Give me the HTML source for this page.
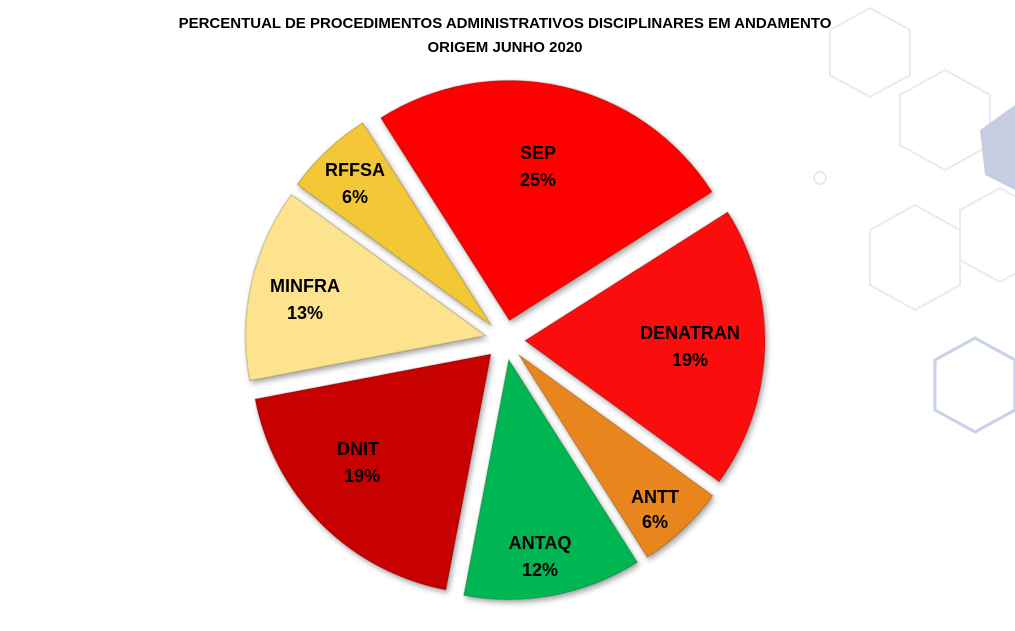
<!DOCTYPE html>
<html><head><meta charset="utf-8"><style>
html,body{margin:0;padding:0;background:#fff;}
body{width:1015px;height:631px;overflow:hidden;position:relative;font-family:"Liberation Sans",Arial,sans-serif;}
svg{position:absolute;left:0;top:0;}
</style></head><body>
<svg width="1015" height="631" viewBox="0 0 1015 631" id="s">
<defs>
<filter id="sh" x="-20%" y="-20%" width="140%" height="140%"><feDropShadow dx="2" dy="3" stdDeviation="3" flood-color="#000" flood-opacity="0.35"/></filter>
</defs>
<g fill="none" stroke="#e6ebf2" stroke-width="2">
<polygon points="900,95 945,70 990,95 990,145 945,170 900,145"/>
<polygon points="870,230 915,205 960,230 960,285 915,310 870,285"/>
<polygon points="935,360 975,338 1015,360 1015,410 975,432 935,410" stroke="#c9d2e6" stroke-width="3"/>
<polygon points="830,30 870,8 910,30 910,75 870,97 830,75"/>
<polygon points="960,210 1000,188 1040,210 1040,260 1000,282 960,260"/>
<circle cx="820" cy="178" r="6"/>
</g>
<polygon points="980,130 1015,105 1015,190 985,175" fill="#c7cde0"/>
<g id="pie" filter="url(#sh)"></g>
<g font-weight="bold" font-size="18" text-anchor="middle" fill="#000">
<text x="538" y="159">SEP</text><text x="538" y="186">25%</text>
<text x="690" y="339">DENATRAN</text><text x="690" y="366">19%</text>
<text x="655" y="503">ANTT</text><text x="655" y="528">6%</text>
<text x="540" y="549">ANTAQ</text><text x="540" y="576">12%</text>
<text x="358" y="455">DNIT</text><text x="362" y="482">19%</text>
<text x="305" y="292">MINFRA</text><text x="305" y="319">13%</text>
<text x="355" y="176">RFFSA</text><text x="355" y="203">6%</text>
</g>
<g font-weight="bold" font-size="15" text-anchor="middle" fill="#000">
<text x="505" y="28">PERCENTUAL DE PROCEDIMENTOS  ADMINISTRATIVOS DISCIPLINARES EM ANDAMENTO</text>
<text x="505" y="52">ORIGEM JUNHO 2020</text>
</g>
</svg>
<script>
var data=[[25,"#ff0000"],[19,"#fb0a0a"],[6,"#e8851c"],[12,"#00b652"],[19,"#c70202"],[13,"#fde38e"],[6,"#f3c734"]];
var cx=505,cy=340,r=240,off=20,a=-32.4,g=document.getElementById("pie"),ns="http://www.w3.org/2000/svg";
data.forEach(function(d){
 var span=d[0]*3.6,m=(a+span/2)*Math.PI/180;
 var ox=cx+off*Math.sin(m),oy=cy-off*Math.cos(m);
 var a1=a*Math.PI/180,a2=(a+span)*Math.PI/180;
 var x1=ox+r*Math.sin(a1),y1=oy-r*Math.cos(a1),x2=ox+r*Math.sin(a2),y2=oy-r*Math.cos(a2);
 var p=document.createElementNS(ns,"path");
 p.setAttribute("d","M"+ox+","+oy+"L"+x1+","+y1+"A"+r+","+r+" 0 "+(span>180?1:0)+" 1 "+x2+","+y2+"Z");
 p.setAttribute("fill",d[1]);p.setAttribute("stroke","rgba(0,0,0,0.15)");p.setAttribute("stroke-width","1.5");
 g.appendChild(p);a+=span;
});
</script>
</body></html>
